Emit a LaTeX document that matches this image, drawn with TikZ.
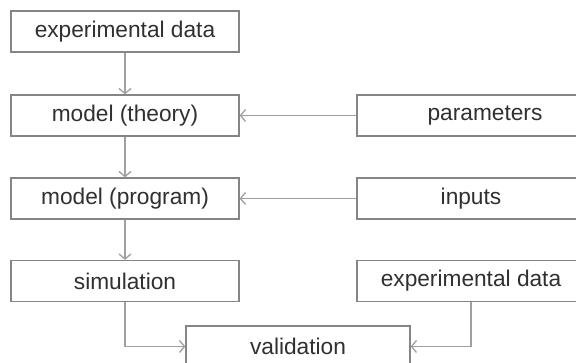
\documentclass[tikz,border=0pt]{standalone}
\usepackage{fontspec}
\setmainfont{Liberation Sans}
\usetikzlibrary{arrows.meta}
\definecolor{boxline}{HTML}{858585}
\definecolor{arrline}{HTML}{A0A0A0}
\definecolor{txt}{HTML}{303030}
\tikzset{
  box/.style={draw=boxline, line width=1.3pt, minimum height=41pt, inner sep=0pt,
    text=txt, font=\fontsize{22.7}{27}\selectfont},
  lbox/.style={box, minimum width=228pt},
  conn/.style={draw=arrline, line width=1.3pt, -{Straight Barb[length=5pt,width=12pt]}}
}
\begin{document}
\begin{tikzpicture}[x=1pt,y=1pt]
\clip (0,0) rectangle (576,363);
\fill[white] (0,0) rectangle (576,363);
\node[lbox] (exp1) at (125,331.5) {experimental data};
\node[lbox] (theory) at (125,247.5) {model (theory)};
\node[lbox] (program) at (125,164.5) {model (program)};
\node[lbox] (sim) at (125,82) {simulation};
\node[box, minimum width=256pt] (param) at (485,247.5) {parameters};
\node[lbox] (inputs) at (471,164.5) {inputs};
\node[lbox] (exp2) at (471,82) {experimental data};
\node[box, minimum width=224pt] (valid) at (298,16.5) {validation};
\draw[conn] (exp1) -- (theory);
\draw[conn] (theory) -- (program);
\draw[conn] (program) -- (sim);
\draw[conn] (param.west) -- (theory.east);
\draw[conn] (inputs.west) -- (program.east);
\draw[conn] (sim.south) |- (valid.west);
\draw[conn] (exp2.south) |- (valid.east);
\end{tikzpicture}
\end{document}
